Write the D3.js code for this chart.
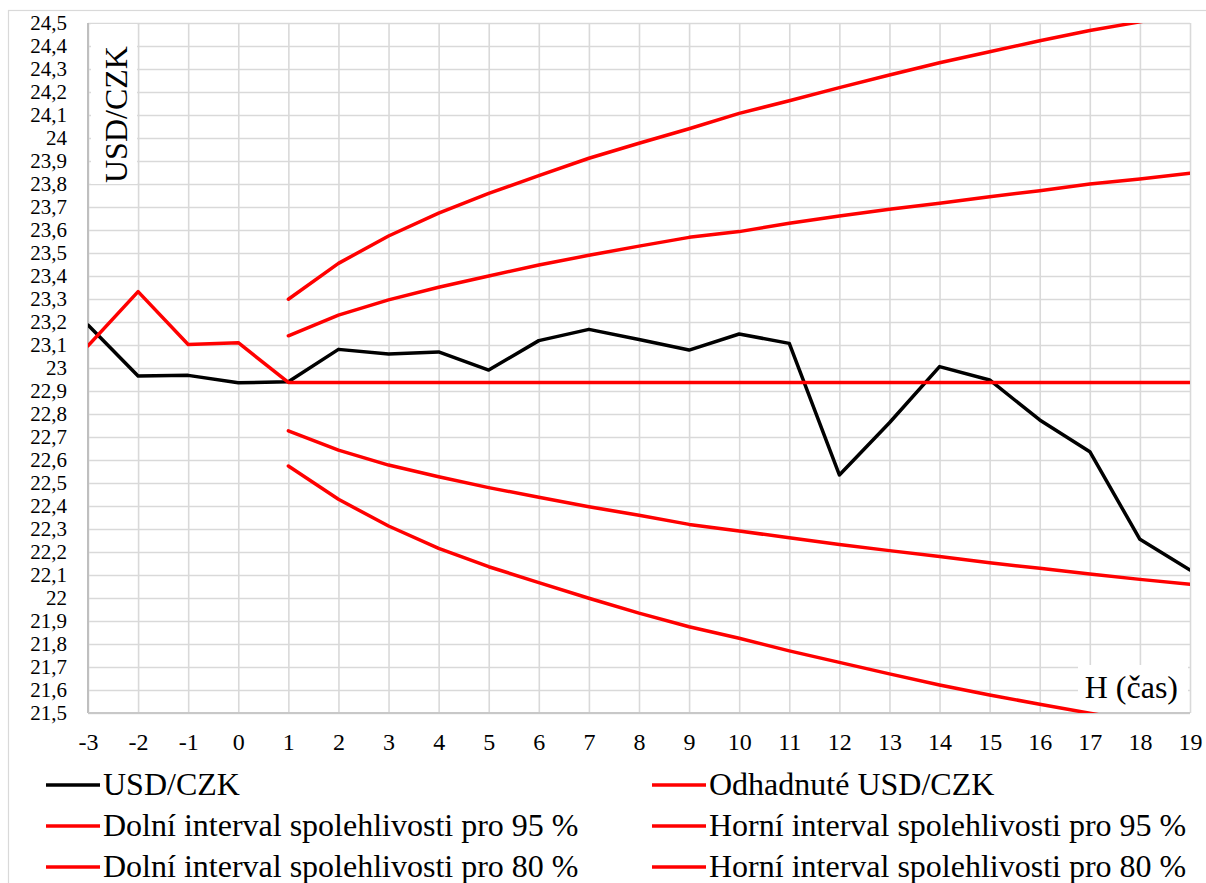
<!DOCTYPE html>
<html>
<head>
<meta charset="utf-8">
<script src="https://cdn.jsdelivr.net/npm/d3@7"></script>
<style>
  html, body { margin: 0; padding: 0; background: #fff; }
  svg { display: block; }
  svg text { font-family: "Liberation Serif", "Times New Roman", Times, "DejaVu Serif", serif; }
</style>
</head>
<body>
<svg id="chart" width="1206" height="883"></svg>
<script>
// ---- data ----
const hours = [-3, -2, -1, 0, 1, 2, 3, 4, 5, 6, 7, 8, 9, 10, 11, 12, 13, 14, 15, 16, 17, 18, 19];
const usdCzk = [23.187, 22.965, 22.968, 22.936, 22.94, 23.081, 23.061, 23.070, 22.991, 23.119, 23.168, 23.124,
                23.078, 23.148, 23.107, 22.535, 22.762, 23.006, 22.948, 22.774, 22.636, 22.255, 22.122];
const forecast = [23.096, 23.332, 23.102, 23.110, 22.937, 22.937, 22.937, 22.937, 22.937, 22.937, 22.937, 22.937,
                  22.937, 22.937, 22.937, 22.937, 22.937, 22.937, 22.937, 22.937, 22.937, 22.937, 22.937];
const intervalHours = [1, 2, 3, 4, 5, 6, 7, 8, 9, 10, 11, 12, 13, 14, 15, 16, 17, 18, 19];
const lower95 = [22.574, 22.429, 22.313, 22.216, 22.136, 22.067, 21.999, 21.934, 21.875, 21.825, 21.770, 21.720,
                 21.670, 21.622, 21.578, 21.538, 21.499, 21.462, 21.427];
const upper95 = [23.299, 23.455, 23.574, 23.673, 23.759, 23.836, 23.912, 23.977, 24.040, 24.107, 24.162, 24.219,
                 24.274, 24.327, 24.375, 24.423, 24.467, 24.505, 24.548];
const lower80 = [22.727, 22.643, 22.578, 22.527, 22.480, 22.438, 22.397, 22.360, 22.320, 22.291, 22.262, 22.233,
                 22.206, 22.180, 22.153, 22.129, 22.104, 22.081, 22.060];
const upper80 = [23.140, 23.230, 23.296, 23.351, 23.400, 23.448, 23.490, 23.530, 23.568, 23.593, 23.629, 23.661,
                 23.690, 23.716, 23.745, 23.771, 23.800, 23.822, 23.847];
const yTicks = [21.5, 21.6, 21.7, 21.8, 21.9, 22, 22.1, 22.2, 22.3, 22.4, 22.5, 22.6, 22.7, 22.8, 22.9, 23,
                23.1, 23.2, 23.3, 23.4, 23.5, 23.6, 23.7, 23.8, 23.9, 24, 24.1, 24.2, 24.3, 24.4, 24.5];
const yTitle = "USD/CZK";
const xTitle = "H (čas)";
const legendItems = [
  { label: "USD/CZK", color: "#000000" },
  { label: "Odhadnuté USD/CZK", color: "#ff0000" },
  { label: "Dolní interval spolehlivosti pro 95 %", color: "#ff0000" },
  { label: "Horní interval spolehlivosti pro 95 %", color: "#ff0000" },
  { label: "Dolní interval spolehlivosti pro 80 %", color: "#ff0000" },
  { label: "Horní interval spolehlivosti pro 80 %", color: "#ff0000" }
];

// ---- layout ----
const FONT = "'Liberation Serif', 'Times New Roman', Times, 'DejaVu Serif', serif";
const L = 88, R = 1190, T = 23, B = 713;
const svg = d3.select("#chart").attr("font-family", FONT);

svg.append("rect").attr("width", 1206).attr("height", 883).attr("fill", "#fff");
svg.append("rect").attr("x", 8.5).attr("y", 10.5).attr("width", 1400).attr("height", 1000)
  .attr("fill", "none").attr("stroke", "#d9d9d9").attr("stroke-width", 1.2);

const x = d3.scaleLinear().domain([-3, 19]).range([L, R]);
const y = d3.scaleLinear().domain([21.5, 24.5]).range([B, T]);

const fmt = d => {
  const r = Math.round(d * 10) / 10;
  return Number.isInteger(r) ? String(r) : r.toFixed(1).replace(".", ",");
};

// gridlines
const gy = svg.append("g").attr("transform", `translate(${L},0)`)
  .call(d3.axisLeft(y).tickValues(yTicks).tickSize(-(R - L)).tickFormat(""));
gy.select(".domain").remove();
gy.selectAll("line").attr("stroke", "#d9d9d9").attr("stroke-width", 1.6);

const gx = svg.append("g").attr("transform", `translate(0,${B})`)
  .call(d3.axisBottom(x).tickValues(hours).tickSize(-(B - T)).tickFormat(""));
gx.select(".domain").remove();
gx.selectAll("line").attr("stroke", "#d9d9d9").attr("stroke-width", 1.6);

// axis lines
svg.append("line").attr("x1", L).attr("x2", L).attr("y1", T).attr("y2", B)
  .attr("stroke", "#bfbfbf").attr("stroke-width", 2);
svg.append("line").attr("x1", L).attr("x2", R).attr("y1", B).attr("y2", B)
  .attr("stroke", "#c8c8c8").attr("stroke-width", 2);

// tick labels
const ay = svg.append("g").attr("transform", `translate(${L},0)`)
  .call(d3.axisLeft(y).tickValues(yTicks).tickSize(0).tickPadding(21).tickFormat(fmt));
ay.select(".domain").remove();
ay.attr("font-family", FONT).attr("font-size", 21);
ay.selectAll("text").attr("font-size", 21).attr("fill", "#000").attr("font-family", FONT);

const ax = svg.append("g").attr("transform", `translate(0,${B})`)
  .call(d3.axisBottom(x).tickValues(hours).tickSize(0).tickPadding(20).tickFormat(d => String(d)));
ax.select(".domain").remove();
ax.attr("font-family", FONT).attr("font-size", 24);
ax.selectAll("text").attr("font-size", 24).attr("fill", "#000").attr("font-family", FONT);

// axis titles with white boxes
svg.append("rect").attr("x", 91).attr("y", T + 1).attr("width", 46).attr("height", 160).attr("fill", "#fff");
svg.append("text").attr("transform", "translate(127,183) rotate(-90)")
  .attr("font-size", 32).attr("fill", "#000").attr("font-family", FONT).text(yTitle);

svg.append("rect").attr("x", 1078).attr("y", 665).attr("width", 110).attr("height", B - 665 - 1).attr("fill", "#fff");
svg.append("text").attr("x", 1178).attr("y", 698).attr("text-anchor", "end")
  .attr("font-size", 32).attr("fill", "#000").attr("font-family", FONT).text(xTitle);

// series
svg.append("clipPath").attr("id", "plotclip").append("rect")
  .attr("x", L).attr("y", T).attr("width", R - L).attr("height", B - T);
const plot = svg.append("g").attr("clip-path", "url(#plotclip)");

const line = d3.line().x(d => x(d[0])).y(d => y(d[1]));
const zipS = (xs, ys) => xs.map((h, i) => [h, ys[i]]);

const seriesList = [
  { data: zipS(intervalHours, upper95), color: "#ff0000" },
  { data: zipS(intervalHours, upper80), color: "#ff0000" },
  { data: zipS(intervalHours, lower80), color: "#ff0000" },
  { data: zipS(intervalHours, lower95), color: "#ff0000" },
  { data: zipS(hours, usdCzk), color: "#000000" },
  { data: zipS(hours, forecast), color: "#ff0000" }
];
seriesList.forEach(s => {
  plot.append("path").attr("d", line(s.data)).attr("fill", "none")
    .attr("stroke", s.color).attr("stroke-width", 3.5)
    .attr("stroke-linejoin", "round").attr("stroke-linecap", "round");
});

// legend
const colX = [46, 652];
const rowY = [785, 826, 867];
legendItems.forEach((item, i) => {
  const cx = colX[i % 2], cy = rowY[Math.floor(i / 2)];
  svg.append("line").attr("x1", cx).attr("x2", cx + 54).attr("y1", cy).attr("y2", cy)
    .attr("stroke", item.color).attr("stroke-width", 3.5);
  svg.append("text").attr("x", cx + 57).attr("y", cy + 10)
    .attr("font-size", 32).attr("fill", "#000").attr("font-family", FONT).text(item.label);
});
</script>
</body>
</html>
